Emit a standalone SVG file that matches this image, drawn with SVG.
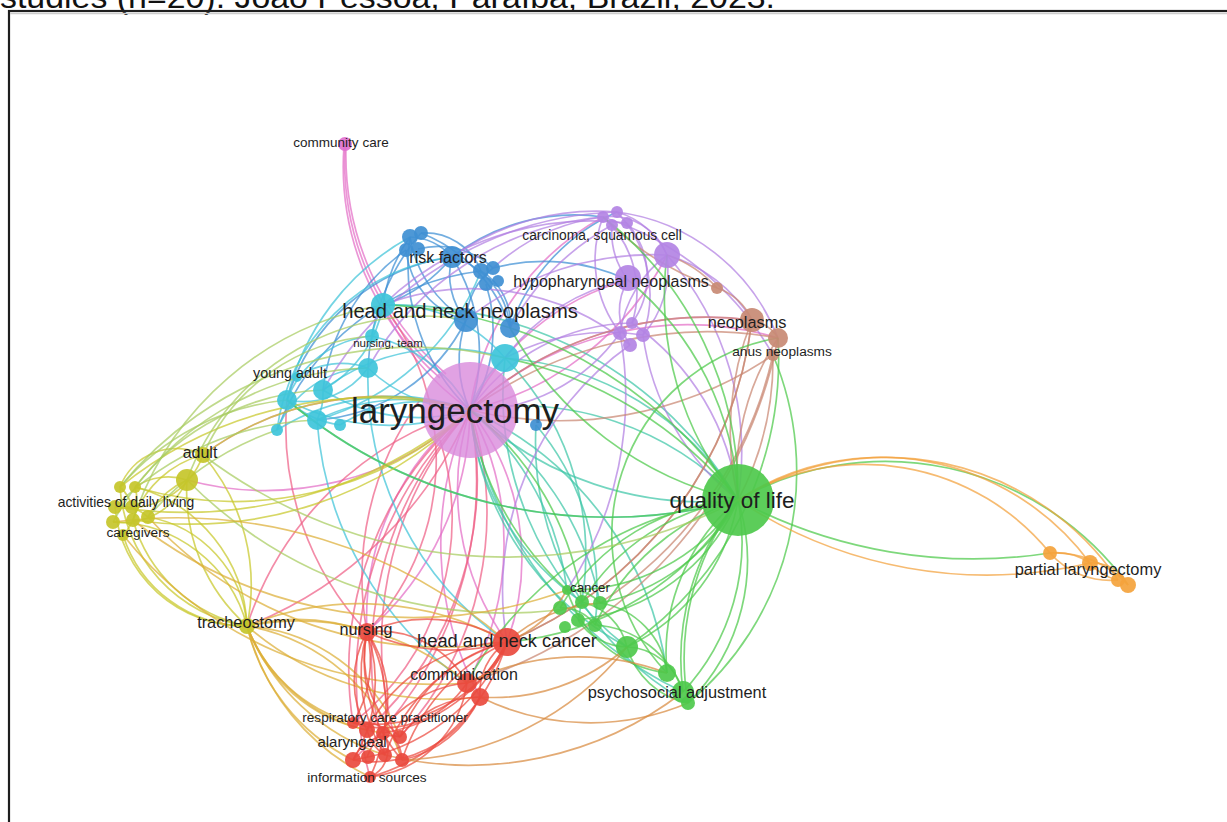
<svg xmlns="http://www.w3.org/2000/svg" width="1227" height="822" viewBox="0 0 1227 822">
<style>
.e path{fill:none;stroke-width:1.7;stroke-opacity:.72}
.p{stroke:#e36ec6}.pr{stroke:#ef5f86}.ct{stroke:#3ec6a8}.b{stroke:#3d8fd4}.c{stroke:#3fc3d8}
.u{stroke:#b180e2}.br{stroke:#c98772}.g{stroke:#4cc94a}.o{stroke:#f2a13c}.y{stroke:#c8c82a}
.yg{stroke:#a8cc60}.yo{stroke:#dcae38}.r{stroke:#eb4a3e}.ro{stroke:#d88a40}
circle{fill-opacity:.92}
.nb{fill:#3f8fd3}.nc{fill:#3ec4da}.nu{fill:#b384e4}.nbr{fill:#c88a74}.ng{fill:#4ec94c}
.no{fill:#f4a33c}.ny{fill:#c6c62a}.nr{fill:#e94a3e}.np{fill:#d98bdc}
text{font-family:"Liberation Sans",Arial,sans-serif;fill:#1e1e1e;text-anchor:middle}
</style>
<rect width="1227" height="822" fill="#fff"/>
<text x="0" y="8" font-size="31" textLength="775" lengthAdjust="spacingAndGlyphs" style="text-anchor:start;fill:#111">studies (n=20). João Pessoa, Paraíba, Brazil, 2023.</text>
<rect x="9" y="11" width="1240" height="830" fill="none" stroke="#1e1e1e" stroke-width="2.2"/>
<line x1="10" y1="13.5" x2="1227" y2="13.5" stroke="#ccc" stroke-width="1.5"/>
<g id="connectors" class="e">
<g class="p">
<path d="M344 146 A280 280 0 0 0 440 378"/><path d="M346 146 A290 290 0 0 0 446 374"/><path d="M345 146 A285 285 0 0 0 443 376"/>
<path d="M470 410 A260 260 0 0 0 367 632"/><path d="M470 410 A300 300 0 0 1 367 632"/><path d="M470 410 A240 240 0 0 1 507 642"/>
<path d="M470 410 A260 260 0 0 0 507 642"/><path d="M470 410 A280 280 0 0 1 467 683"/><path d="M470 410 A320 320 0 0 0 480 697"/>
<path d="M470 410 A260 260 0 0 1 383 305"/><path d="M470 410 A300 300 0 0 0 203 455"/><path d="M470 410 A300 300 0 0 1 187 480"/>
<path d="M470 410 A260 260 0 0 1 603 217"/><path d="M470 410 A300 300 0 0 0 667 255"/><path d="M470 410 A250 250 0 0 1 628 280"/>
<path d="M470 410 A350 350 0 0 1 752 320"/><path d="M470 410 A320 320 0 0 1 778 338"/>
</g>
<g class="pr">
<path d="M470 410 A340 340 0 0 0 353 723"/><path d="M470 410 A380 380 0 0 1 353 760"/><path d="M470 410 A370 370 0 0 0 370 777"/>
<path d="M470 410 A330 330 0 0 1 400 737"/><path d="M470 410 A350 350 0 0 0 402 760"/><path d="M470 410 A340 340 0 0 1 367 730"/>
<path d="M470 410 A360 360 0 0 0 385 755"/><path d="M470 410 A330 330 0 0 0 247 626"/><path d="M470 410 A400 400 0 0 1 247 626"/>
<path d="M420 400 A300 300 0 0 0 367 632"/><path d="M440 440 A260 260 0 0 1 353 723"/>
<path d="M367 632 A300 300 0 0 1 287 400"/><path d="M367 632 A250 250 0 0 0 383 305"/>
</g>
<g class="ct">
<path d="M470 410 A280 280 0 0 1 567 590"/><path d="M470 410 A260 260 0 0 0 582 602"/><path d="M470 410 A300 300 0 0 1 600 603"/>
<path d="M470 410 A300 300 0 0 0 627 647"/><path d="M470 410 A340 340 0 0 1 667 673"/><path d="M470 410 A380 380 0 0 0 683 692"/>
<path d="M470 410 A300 300 0 0 1 738 500"/><path d="M470 410 A340 340 0 0 0 738 500"/><path d="M505 358 A300 300 0 0 1 738 500"/>
<path d="M505 358 A320 320 0 0 0 627 647"/><path d="M505 358 A280 280 0 0 1 578 620"/><path d="M383 305 A400 400 0 0 1 738 500"/>
<path d="M536 425 A300 300 0 0 0 688 703"/><path d="M536 425 A260 260 0 0 1 595 625"/>
</g>
<g class="b">
<path d="M410 237 A60 60 0 0 1 452 257"/><path d="M421 233 A60 60 0 0 1 481 271"/><path d="M406 250 A80 80 0 0 0 466 320"/>
<path d="M418 249 A80 80 0 0 1 493 268"/><path d="M452 257 A80 80 0 0 1 510 328"/><path d="M452 257 A70 70 0 0 0 466 320"/>
<path d="M481 271 A60 60 0 0 1 510 328"/><path d="M493 268 A70 70 0 0 0 466 320"/><path d="M410 237 A120 120 0 0 0 466 320"/>
<path d="M421 233 A150 150 0 0 1 510 328"/><path d="M452 257 A180 180 0 0 1 470 410"/><path d="M410 237 A200 200 0 0 0 470 410"/>
<path d="M486 284 A150 150 0 0 1 470 410"/><path d="M466 320 A120 120 0 0 0 470 410"/><path d="M410 237 A150 150 0 0 0 383 305"/>
<path d="M406 250 A200 200 0 0 0 323 390"/><path d="M452 257 A200 200 0 0 0 287 400"/><path d="M421 233 A220 220 0 0 0 368 368"/>
<path d="M452 257 A150 150 0 0 1 383 305"/><path d="M466 320 A180 180 0 0 1 317 420"/><path d="M481 271 A250 250 0 0 0 277 430"/>
<path d="M452 257 A200 200 0 0 1 603 217"/><path d="M493 268 A200 200 0 0 1 628 280"/><path d="M510 328 A200 200 0 0 1 617 212"/>
</g>
<g class="c">
<path d="M383 305 A100 100 0 0 0 372 336"/><path d="M383 305 A120 120 0 0 1 323 390"/><path d="M372 336 A100 100 0 0 0 287 400"/>
<path d="M368 368 A80 80 0 0 1 287 400"/><path d="M368 368 A100 100 0 0 0 277 430"/><path d="M323 390 A60 60 0 0 1 317 420"/>
<path d="M297 377 A80 80 0 0 1 368 368"/><path d="M287 400 A100 100 0 0 0 340 425"/><path d="M383 305 A150 150 0 0 1 505 358"/>
<path d="M323 390 A200 200 0 0 1 505 358"/><path d="M287 400 A220 220 0 0 0 470 410"/><path d="M317 420 A200 200 0 0 1 470 410"/>
<path d="M277 430 A220 220 0 0 1 470 410"/><path d="M368 368 A150 150 0 0 0 470 410"/><path d="M372 336 A150 150 0 0 1 470 410"/>
<path d="M323 390 A180 180 0 0 0 470 410"/><path d="M340 425 A150 150 0 0 1 470 410"/><path d="M277 430 A200 200 0 0 1 452 257"/>
<path d="M317 420 A250 250 0 0 0 481 271"/><path d="M287 400 A250 250 0 0 1 410 237"/><path d="M505 358 A120 120 0 0 0 470 410"/>
<path d="M287 400 A500 500 0 0 0 738 500"/><path d="M368 368 A320 320 0 0 0 507 642"/><path d="M317 420 A350 350 0 0 0 467 683"/>
</g>
<g class="u">
<path d="M603 217 A60 60 0 0 1 667 255"/><path d="M617 212 A80 80 0 0 1 667 255"/><path d="M612 225 A80 80 0 0 0 628 280"/>
<path d="M627 223 A80 80 0 0 1 632 323"/><path d="M603 217 A120 120 0 0 0 620 333"/><path d="M617 212 A120 120 0 0 1 643 335"/>
<path d="M628 280 A60 60 0 0 0 630 345"/><path d="M667 255 A100 100 0 0 1 643 335"/><path d="M667 255 A120 120 0 0 0 620 333"/>
<path d="M603 217 A100 100 0 0 1 632 323"/><path d="M603 217 A200 200 0 0 0 493 268"/><path d="M617 212 A250 250 0 0 0 452 257"/>
<path d="M627 223 A300 300 0 0 0 383 305"/><path d="M667 255 A300 300 0 0 0 466 320"/><path d="M612 225 A260 260 0 0 0 510 328"/>
<path d="M628 280 A200 200 0 0 0 505 358"/><path d="M632 323 A200 200 0 0 0 470 410"/><path d="M620 333 A180 180 0 0 1 470 410"/>
<path d="M643 335 A220 220 0 0 0 505 358"/><path d="M630 345 A250 250 0 0 0 383 305"/><path d="M603 217 A300 300 0 0 0 368 368"/>
<path d="M617 212 A350 350 0 0 0 323 390"/><path d="M667 255 A300 300 0 0 1 738 500"/><path d="M632 323 A250 250 0 0 1 738 500"/>
<path d="M643 335 A250 250 0 0 0 738 500"/><path d="M667 255 A150 150 0 0 1 752 320"/><path d="M617 212 A200 200 0 0 1 778 338"/>
<path d="M603 217 A300 300 0 0 1 773 355"/><path d="M630 345 A300 300 0 0 0 507 642"/><path d="M620 333 A350 350 0 0 1 567 590"/>
</g>
<g class="br">
<path d="M717 288 A60 60 0 0 1 752 320"/><path d="M752 320 A40 40 0 0 1 778 338"/><path d="M752 320 A350 350 0 0 0 470 410"/>
<path d="M778 338 A400 400 0 0 0 470 410"/><path d="M773 355 A380 380 0 0 1 470 410"/><path d="M752 320 A400 400 0 0 1 507 642"/>
<path d="M778 338 A450 450 0 0 1 467 683"/><path d="M773 355 A300 300 0 0 1 738 500"/><path d="M778 338 A250 250 0 0 0 738 500"/>
<path d="M752 320 A300 300 0 0 0 738 500"/><path d="M717 288 A300 300 0 0 1 603 217"/><path d="M717 288 A120 120 0 0 0 667 255"/>
<path d="M773 355 A400 400 0 0 1 600 603"/><path d="M507 642 A400 400 0 0 0 752 320"/>
</g>
<g class="g">
<path d="M738 500 A200 200 0 0 1 567 590"/><path d="M738 500 A220 220 0 0 0 582 602"/><path d="M738 500 A200 200 0 0 1 600 603"/>
<path d="M738 500 A220 220 0 0 0 560 608"/><path d="M738 500 A200 200 0 0 1 578 620"/><path d="M738 500 A240 240 0 0 0 595 625"/>
<path d="M738 500 A200 200 0 0 1 627 647"/><path d="M738 500 A200 200 0 0 0 667 673"/><path d="M738 500 A220 220 0 0 1 683 692"/>
<path d="M738 500 A260 260 0 0 0 688 703"/><path d="M738 500 A300 300 0 0 1 507 642"/><path d="M738 500 A350 350 0 0 0 467 683"/>
<path d="M567 590 A40 40 0 0 1 600 603"/><path d="M560 608 A40 40 0 0 1 595 625"/><path d="M582 602 A60 60 0 0 1 627 647"/>
<path d="M578 620 A60 60 0 0 0 627 647"/><path d="M600 603 A80 80 0 0 1 667 673"/><path d="M627 647 A60 60 0 0 1 683 692"/>
<path d="M627 647 A80 80 0 0 0 688 703"/><path d="M595 625 A100 100 0 0 1 683 692"/><path d="M567 590 A120 120 0 0 0 667 673"/>
<path d="M738 500 A400 400 0 0 0 505 358"/><path d="M738 500 A350 350 0 0 1 510 328"/><path d="M738 500 A450 450 0 0 0 383 305"/>
<path d="M738 500 A500 500 0 0 1 287 400"/><path d="M738 500 A300 300 0 0 0 628 280"/><path d="M738 500 A320 320 0 0 1 667 255"/>
<path d="M738 500 A350 350 0 0 0 603 217"/><path d="M688 703 A200 200 0 0 0 738 500"/><path d="M683 692 A250 250 0 0 1 738 500"/>
<path d="M667 673 A200 200 0 0 1 778 338"/><path d="M688 703 A300 300 0 0 0 773 355"/><path d="M627 647 A350 350 0 0 0 778 338"/>
<path d="M567 590 A300 300 0 0 1 470 410"/><path d="M582 602 A300 300 0 0 0 470 410"/>
<path d="M738 500 A300 300 0 0 1 1128 585"/><path d="M738 500 A500 500 0 0 0 1050 553"/>
</g>
<g class="o">
<path d="M738 500 A240 240 0 0 1 1050 553"/><path d="M738 500 A260 260 0 0 1 1090 563"/><path d="M738 500 A280 280 0 0 1 1118 580"/>
<path d="M738 500 A450 450 0 0 0 1090 563"/><path d="M1050 553 A60 60 0 0 1 1090 563"/><path d="M1050 553 A80 80 0 0 0 1118 580"/>
<path d="M1090 563 A40 40 0 0 1 1128 585"/><path d="M1050 553 A100 100 0 0 1 1128 585"/><path d="M1090 563 A50 50 0 0 0 1118 580"/>
</g>
<g class="y">
<path d="M203 455 A60 60 0 0 0 120 487"/><path d="M203 455 A80 80 0 0 1 115 507"/><path d="M187 480 A60 60 0 0 0 135 487"/>
<path d="M187 480 A70 70 0 0 1 113 522"/><path d="M203 455 A100 100 0 0 0 133 520"/><path d="M187 480 A80 80 0 0 0 148 517"/>
<path d="M120 487 A40 40 0 0 1 132 507"/><path d="M135 487 A50 50 0 0 1 123 535"/><path d="M115 507 A40 40 0 0 1 148 517"/>
<path d="M120 487 A150 150 0 0 0 247 626"/><path d="M135 487 A150 150 0 0 1 247 626"/><path d="M115 507 A130 130 0 0 0 247 626"/>
<path d="M113 522 A140 140 0 0 1 247 626"/><path d="M133 520 A150 150 0 0 0 247 626"/><path d="M148 517 A120 120 0 0 1 247 626"/>
<path d="M123 535 A130 130 0 0 0 247 626"/><path d="M203 455 A200 200 0 0 1 247 626"/><path d="M187 480 A180 180 0 0 0 247 626"/>
<path d="M120 487 A400 400 0 0 1 470 410"/><path d="M135 487 A350 350 0 0 0 470 410"/><path d="M115 507 A450 450 0 0 0 470 410"/>
<path d="M133 520 A400 400 0 0 0 470 410"/><path d="M203 455 A300 300 0 0 1 470 410"/>
</g>
<g class="yg">
<path d="M120 487 A250 250 0 0 1 287 400"/><path d="M135 487 A250 250 0 0 1 323 390"/><path d="M115 507 A300 300 0 0 1 317 420"/>
<path d="M113 522 A300 300 0 0 1 368 368"/><path d="M133 520 A320 320 0 0 1 383 305"/><path d="M148 517 A300 300 0 0 1 277 430"/>
<path d="M203 455 A200 200 0 0 1 372 336"/><path d="M187 480 A250 250 0 0 1 466 320"/><path d="M120 487 A380 380 0 0 1 505 358"/>
<path d="M203 455 A500 500 0 0 0 738 500"/><path d="M187 480 A450 450 0 0 0 600 603"/>
</g>
<g class="yo">
<path d="M148 517 A400 400 0 0 0 507 642"/><path d="M133 520 A450 450 0 0 0 567 590"/><path d="M123 535 A400 400 0 0 0 467 683"/>
<path d="M113 522 A500 500 0 0 1 507 642"/><path d="M247 626 A200 200 0 0 1 367 632"/><path d="M247 626 A160 160 0 0 0 353 723"/>
<path d="M247 626 A160 160 0 0 0 367 730"/><path d="M247 626 A170 170 0 0 0 383 733"/><path d="M247 626 A200 200 0 0 0 353 760"/>
<path d="M247 626 A220 220 0 0 0 385 755"/><path d="M247 626 A180 180 0 0 1 400 737"/><path d="M247 626 A200 200 0 0 1 402 760"/>
<path d="M247 626 A230 230 0 0 0 370 777"/><path d="M247 626 A300 300 0 0 1 507 642"/><path d="M247 626 A260 260 0 0 1 467 683"/>
<path d="M247 626 A300 300 0 0 0 480 697"/>
</g>
<g class="r">
<path d="M367 632 A120 120 0 0 1 353 723"/><path d="M367 632 A100 100 0 0 0 367 730"/><path d="M367 632 A120 120 0 0 1 383 733"/>
<path d="M367 632 A110 110 0 0 0 400 737"/><path d="M367 632 A150 150 0 0 1 353 760"/><path d="M367 632 A150 150 0 0 0 402 760"/>
<path d="M367 632 A160 160 0 0 1 370 777"/><path d="M367 632 A150 150 0 0 0 385 755"/>
<path d="M507 642 A150 150 0 0 1 353 723"/><path d="M507 642 A160 160 0 0 0 367 730"/><path d="M507 642 A170 170 0 0 1 383 733"/>
<path d="M507 642 A150 150 0 0 0 400 737"/><path d="M507 642 A200 200 0 0 1 353 760"/><path d="M507 642 A200 200 0 0 0 402 760"/>
<path d="M507 642 A200 200 0 0 1 370 777"/><path d="M507 642 A180 180 0 0 0 385 755"/>
<path d="M467 683 A100 100 0 0 1 353 723"/><path d="M467 683 A120 120 0 0 0 367 757"/><path d="M480 697 A120 120 0 0 1 353 760"/>
<path d="M480 697 A100 100 0 0 0 400 737"/><path d="M467 683 A110 110 0 0 1 370 777"/><path d="M480 697 A110 110 0 0 1 402 760"/>
<path d="M367 632 A150 150 0 0 1 507 642"/><path d="M367 632 A200 200 0 0 0 507 642"/><path d="M367 632 A100 100 0 0 1 467 683"/>
<path d="M507 642 A60 60 0 0 1 467 683"/><path d="M507 642 A60 60 0 0 0 480 697"/>
<path d="M353 723 A40 40 0 0 1 402 760"/><path d="M367 730 A40 40 0 0 0 385 755"/><path d="M353 760 A40 40 0 0 1 400 737"/><path d="M383 733 A30 30 0 0 1 370 777"/>
</g>
<g class="ro">
<path d="M507 642 A150 150 0 0 1 600 603"/><path d="M507 642 A120 120 0 0 0 567 590"/><path d="M480 697 A200 200 0 0 0 627 647"/>
<path d="M467 683 A250 250 0 0 1 667 673"/><path d="M480 697 A250 250 0 0 0 688 703"/><path d="M402 760 A300 300 0 0 0 627 647"/>
<path d="M385 755 A350 350 0 0 0 683 692"/>
</g>
</g>
<g id="n-laryngectomy"><circle class="np" cx="470" cy="410" r="48" style="fill-opacity:.8"/><text x="455" y="423" font-size="35">laryngectomy</text></g>
<g id="n-community-care"><circle cx="345" cy="144" r="7" fill="#e070d0"/><text x="341" y="147" font-size="13.5">community care</text></g>
<g id="n-blue1"><circle class="nb" cx="410" cy="237" r="8"/></g>
<g id="n-blue2"><circle class="nb" cx="421" cy="233" r="7"/></g>
<g id="n-blue3"><circle class="nb" cx="406" cy="250" r="7"/></g>
<g id="n-blue4"><circle class="nb" cx="418" cy="249" r="7"/></g>
<g id="n-risk-factors"><circle class="nb" cx="452" cy="257" r="11"/><text x="448" y="263" font-size="16">risk factors</text></g>
<g id="n-blue6"><circle class="nb" cx="481" cy="271" r="8"/></g>
<g id="n-blue7"><circle class="nb" cx="493" cy="268" r="7"/></g>
<g id="n-blue8"><circle class="nb" cx="486" cy="284" r="7"/></g>
<g id="n-blue9"><circle class="nb" cx="498" cy="281" r="6"/></g>
<g id="n-blue11"><circle class="nb" cx="510" cy="328" r="10"/></g>
<g id="n-blue12"><circle class="nb" cx="536" cy="425" r="6"/></g>
<g id="n-cyan1"><circle class="nc" cx="383" cy="305" r="12"/></g>
<g id="n-cyan3"><circle class="nc" cx="368" cy="368" r="10"/></g>
<g id="n-cyan4"><circle class="nc" cx="323" cy="390" r="10"/></g>
<g id="n-cyan5"><circle class="nc" cx="287" cy="400" r="10"/></g>
<g id="n-cyan6"><circle class="nc" cx="317" cy="420" r="10"/></g>
<g id="n-cyan7"><circle class="nc" cx="277" cy="430" r="6"/></g>
<g id="n-young-adult"><circle class="nc" cx="297" cy="377" r="5"/><text x="290" y="378" font-size="14.3">young adult</text></g>
<g id="n-cyan9"><circle class="nc" cx="505" cy="358" r="14"/></g>
<g id="n-cyan10"><circle class="nc" cx="340" cy="425" r="6"/></g>
<g id="n-nursing-team"><circle class="nc" cx="372" cy="336" r="7"/><text x="388" y="347" font-size="11.5">nursing, team</text></g>
<g id="n-head-neck-neoplasms"><circle class="nb" cx="466" cy="320" r="12"/><text x="460" y="318" font-size="20.2">head and neck neoplasms</text></g>
<g id="n-purple1"><circle class="nu" cx="603" cy="217" r="6"/></g>
<g id="n-purple2"><circle class="nu" cx="617" cy="212" r="6"/></g>
<g id="n-purple3"><circle class="nu" cx="627" cy="223" r="6"/></g>
<g id="n-carcinoma"><circle class="nu" cx="612" cy="225" r="6"/><text x="602" y="240" font-size="13.8">carcinoma, squamous cell</text></g>
<g id="n-purple5"><circle class="nu" cx="667" cy="255" r="13"/></g>
<g id="n-hypopharyngeal"><circle class="nu" cx="628" cy="278" r="13"/><text x="611" y="287" font-size="16">hypopharyngeal neoplasms</text></g>
<g id="n-purple7"><circle class="nu" cx="632" cy="323" r="6"/></g>
<g id="n-purple8"><circle class="nu" cx="620" cy="333" r="7"/></g>
<g id="n-purple9"><circle class="nu" cx="643" cy="335" r="7"/></g>
<g id="n-purple10"><circle class="nu" cx="630" cy="345" r="7"/></g>
<g id="n-brown1"><circle class="nbr" cx="717" cy="288" r="6"/></g>
<g id="n-neoplasms"><circle class="nbr" cx="752" cy="320" r="12"/><text x="747" y="328" font-size="16.3">neoplasms</text></g>
<g id="n-brown3"><circle class="nbr" cx="778" cy="338" r="10"/></g>
<g id="n-anus-neoplasms"><circle class="nbr" cx="773" cy="355" r="6"/><text x="782" y="356" font-size="13.7">anus neoplasms</text></g>
<g id="n-quality-of-life"><circle class="ng" cx="738" cy="500" r="36"/><text x="732" y="508" font-size="22.5">quality of life</text></g>
<g id="n-cancer"><circle class="ng" cx="567" cy="590" r="5"/><text x="590" y="592" font-size="13.3">cancer</text></g>
<g id="n-green2"><circle class="ng" cx="582" cy="602" r="7"/></g>
<g id="n-green3"><circle class="ng" cx="600" cy="603" r="7"/></g>
<g id="n-green4"><circle class="ng" cx="560" cy="608" r="7"/></g>
<g id="n-green5"><circle class="ng" cx="578" cy="620" r="7"/></g>
<g id="n-green6"><circle class="ng" cx="595" cy="625" r="7"/></g>
<g id="n-green7"><circle class="ng" cx="565" cy="627" r="6"/></g>
<g id="n-green8"><circle class="ng" cx="627" cy="647" r="11"/></g>
<g id="n-green9"><circle class="ng" cx="667" cy="673" r="9"/></g>
<g id="n-psychosocial"><circle class="ng" cx="683" cy="692" r="11"/><circle class="ng" cx="688" cy="703" r="7"/><text x="677" y="698" font-size="16.4">psychosocial adjustment</text></g>
<g id="n-partial-laryngectomy"><circle class="no" cx="1050" cy="553" r="7"/><circle class="no" cx="1090" cy="563" r="8"/><circle class="no" cx="1118" cy="580" r="7"/><circle class="no" cx="1128" cy="585" r="8"/><text x="1088" y="575" font-size="16.4">partial laryngectomy</text></g>
<g id="n-adult"><circle class="ny" cx="203" cy="455" r="8"/><circle class="ny" cx="187" cy="480" r="11"/><text x="200" y="458" font-size="16">adult</text></g>
<g id="n-activities"><circle class="ny" cx="120" cy="487" r="6"/><circle class="ny" cx="135" cy="487" r="6"/><circle class="ny" cx="115" cy="507" r="7"/><circle class="ny" cx="132" cy="507" r="7"/><text x="126" y="507" font-size="13.9">activities of daily living</text></g>
<g id="n-caregivers"><circle class="ny" cx="113" cy="522" r="7"/><circle class="ny" cx="133" cy="520" r="7"/><circle class="ny" cx="148" cy="517" r="7"/><circle class="ny" cx="123" cy="535" r="6"/><text x="138" y="537" font-size="13.7">caregivers</text></g>
<g id="n-tracheostomy"><circle class="ny" cx="247" cy="626" r="8"/><text x="246" y="628" font-size="16.3">tracheostomy</text></g>
<g id="n-nursing"><circle class="nr" cx="367" cy="632" r="9"/><text x="366" y="635" font-size="16.2">nursing</text></g>
<g id="n-head-neck-cancer"><circle class="nr" cx="507" cy="642" r="14"/><text x="507" y="647" font-size="18.3">head and neck cancer</text></g>
<g id="n-communication"><circle class="nr" cx="467" cy="683" r="10"/><circle class="nr" cx="480" cy="697" r="9"/><text x="464" y="680" font-size="16">communication</text></g>
<g id="n-respiratory"><circle class="nr" cx="353" cy="723" r="6"/><circle class="nr" cx="367" cy="730" r="8"/><circle class="nr" cx="383" cy="733" r="7"/><circle class="nr" cx="400" cy="737" r="7"/><text x="385" y="722" font-size="13.6">respiratory care practitioner</text></g>
<g id="n-alaryngeal"><circle class="nr" cx="353" cy="760" r="8"/><circle class="nr" cx="368" cy="757" r="7"/><circle class="nr" cx="385" cy="755" r="7"/><circle class="nr" cx="402" cy="760" r="7"/><text x="352" y="747" font-size="15">alaryngeal</text></g>
<g id="n-information-sources"><circle class="nr" cx="370" cy="777" r="6"/><text x="367" y="782" font-size="13.7">information sources</text></g>
</svg>
